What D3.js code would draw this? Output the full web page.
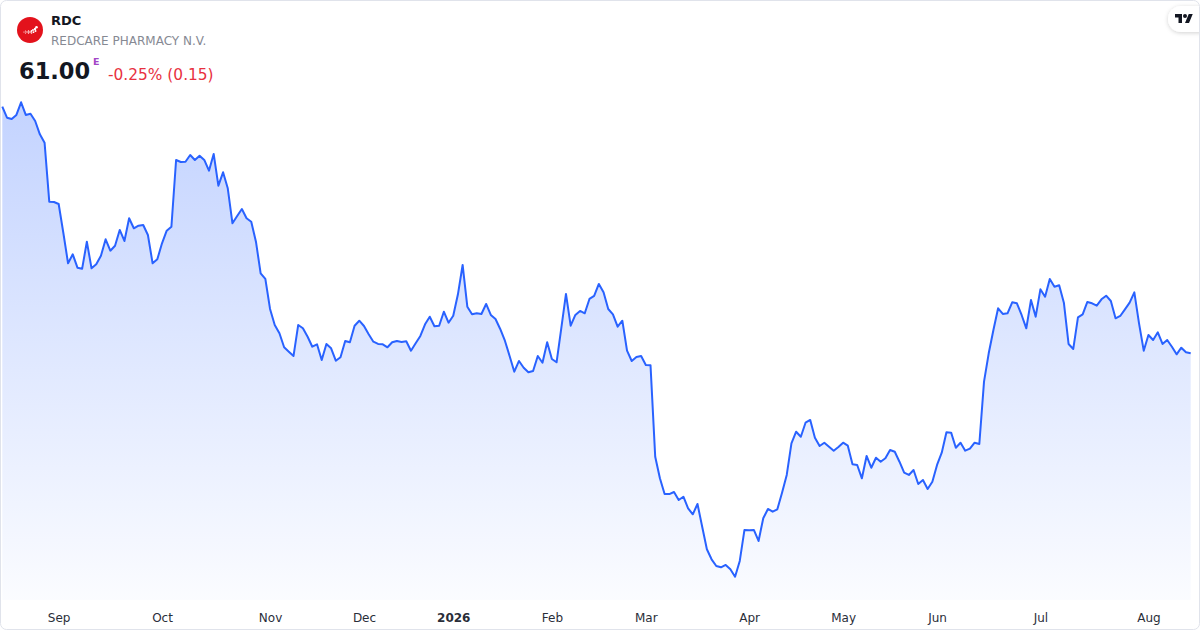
<!DOCTYPE html>
<html>
<head>
<meta charset="utf-8">
<script src="https://cdn.jsdelivr.net/npm/d3@7/dist/d3.min.js"></script>
<style>
  html, body { margin: 0; padding: 0; background: #fff; }
  svg { display: block; font-family: "DejaVu Sans", sans-serif; }
</style>
</head>
<body>
<svg id="chart" width="1200" height="630"></svg>
<script>
// --- data ---
const SYMBOL = "RDC";
const COMPANY = "REDCARE PHARMACY N.V.";
const LAST_PRICE = "61.00";
const CHANGE_TEXT = "-0.25% (0.15)";

const START_DAY = "2025-08-14";
const END_DAY = "2026-08-14";
const HOLIDAYS = ["2025-12-24", "2025-12-25", "2025-12-26", "2025-12-31",
  "2026-01-01", "2026-04-03", "2026-04-06", "2026-05-01"];

// daily closes, one per trading day
const PRICES = [
  97.99, 96.34, 96.15, 96.75, 98.65, 96.75, 96.94, 95.85, 93.85, 92.59,
  83.74, 83.70, 83.40, 79.05, 74.50, 75.85, 73.84, 73.69, 77.74, 73.75,
  74.35, 75.64, 78.10, 76.39, 77.14, 79.50, 77.85, 81.25, 79.75, 80.14,
  80.25, 78.75, 74.50, 75.10, 77.50, 79.39, 79.99, 90.00, 89.70, 89.74,
  90.75, 90.00, 90.64,
  90.00, 88.39, 90.90, 86.14, 88.15, 85.75, 80.50, 81.60, 82.65, 81.25,
  80.74, 77.74, 73.00, 72.15, 67.65, 65.25, 64.00, 61.90, 61.24, 60.60,
  65.25, 64.75, 63.49, 61.99, 62.35, 60.00, 62.40, 61.75, 59.89, 60.40,
  62.85, 62.65, 65.14, 65.89, 65.10, 63.85, 62.74, 62.40, 62.35, 61.90,
  62.65,
  62.85, 62.70, 62.80, 61.39, 62.50, 63.60, 65.35, 66.49, 65.05, 65.14,
  67.24, 65.59, 66.64, 69.85, 74.25, 67.99, 66.85, 67.00, 66.90, 68.40,
  66.75, 66.15, 64.65, 62.89, 60.60, 58.24, 59.85, 58.84, 58.15, 58.35,
  60.60, 59.59, 62.65, 60.15, 59.65, 64.75, 69.90, 65.14, 66.75, 67.35,
  67.00, 69.15, 69.60, 71.40, 70.15, 67.65, 66.85, 64.99, 65.89, 61.39,
  59.85, 60.45,
  60.60, 59.25, 59.20, 45.49, 42.25, 39.90, 39.88, 40.20, 39.00, 39.49,
  37.75, 36.85, 38.40, 34.99, 31.60, 30.10, 29.10, 28.90, 29.25, 28.60,
  27.49, 29.85, 34.50, 34.45, 34.50, 32.85, 36.25, 37.65, 37.24, 37.60,
  40.09, 42.75, 47.50, 49.24,
  48.49, 50.59, 51.00, 48.34, 47.10, 47.59, 46.99, 46.39, 46.95, 47.59,
  47.14, 44.35, 44.25, 42.25, 45.60, 43.84, 45.34, 44.74, 45.25, 46.50,
  46.24, 44.74, 43.09, 42.75, 43.50, 41.40, 42.00, 40.65, 41.74, 44.25,
  46.09, 49.15, 49.10, 46.84, 47.59, 46.39, 46.69, 47.59, 47.40,
  56.74, 61.00, 64.50, 67.75, 66.90, 67.00, 68.65, 68.50, 66.75, 64.75,
  69.00, 66.49, 70.60, 69.49, 72.15, 70.99, 71.20, 68.59, 62.40, 61.65,
  66.40, 66.85, 68.70, 68.50, 68.14, 69.10, 69.64, 68.85, 66.25, 66.60,
  67.60, 68.59, 70.15, 65.50, 61.39, 63.75, 63.00, 64.15, 62.40, 63.00,
  61.99, 60.85, 61.84, 61.15, 61.00
];

// --- trading calendar ---
const parseDay = d3.utcParse("%Y-%m-%d");
const fmtDay = d3.utcFormat("%Y-%m-%d");
const holidaySet = new Set(HOLIDAYS);
const days = d3.utcDay
  .range(parseDay(START_DAY), d3.utcDay.offset(parseDay(END_DAY), 1))
  .filter((d) => d.getUTCDay() !== 0 && d.getUTCDay() !== 6 && !holidaySet.has(fmtDay(d)));

const data = PRICES.map((p, i) => ({ i, date: days[i], price: p }));

// --- params ---
const W = 1200, H = 630;
const lineColor = "#2962ff";
const plotBottom = 600;

const svg = d3.select("#chart");

const defs = svg.append("defs");
defs.append("clipPath").attr("id", "card-clip")
  .append("rect").attr("x", 0.5).attr("y", 0.5)
  .attr("width", W - 1).attr("height", H - 1).attr("rx", 6);

const x = d3.scaleLinear().domain([0, PRICES.length - 1]).range([2.3, 1190.7]);
const y = d3.scaleLinear().domain(d3.extent(PRICES)).range([576.7, 102.3]);

const grad = defs.append("linearGradient")
  .attr("id", "area-grad")
  .attr("gradientUnits", "userSpaceOnUse")
  .attr("x1", 0).attr("x2", 0)
  .attr("y1", y(d3.max(PRICES))).attr("y2", plotBottom);
grad.append("stop").attr("offset", 0).attr("stop-color", lineColor).attr("stop-opacity", 0.28);
grad.append("stop").attr("offset", 1).attr("stop-color", lineColor).attr("stop-opacity", 0.02);

const shadow = defs.append("filter").attr("id", "badge-shadow")
  .attr("x", "-50%").attr("y", "-50%").attr("width", "200%").attr("height", "200%");
shadow.append("feDropShadow").attr("dx", 0).attr("dy", 1).attr("stdDeviation", 2)
  .attr("flood-color", "#000").attr("flood-opacity", 0.18);

// card background
svg.append("rect")
  .attr("x", 0.5).attr("y", 0.5)
  .attr("width", W - 1).attr("height", H - 1)
  .attr("rx", 6)
  .attr("fill", "#fff");

const g = svg.append("g").attr("clip-path", "url(#card-clip)");

// area + line
g.append("path")
  .datum(data)
  .attr("fill", "url(#area-grad)")
  .attr("d", d3.area().x((d) => x(d.i)).y0(plotBottom).y1((d) => y(d.price)));

g.append("path")
  .datum(data)
  .attr("fill", "none")
  .attr("stroke", lineColor)
  .attr("stroke-width", 2)
  .attr("stroke-linejoin", "round")
  .attr("d", d3.line().x((d) => x(d.i)).y((d) => y(d.price)));

// x axis: first trading day of each month
const monthStarts = data.filter((d, i) => i > 0 && d.date.getUTCMonth() !== data[i - 1].date.getUTCMonth());
const tickLabel = (i) => {
  const dt = data[i].date;
  return dt.getUTCMonth() === 0 ? d3.utcFormat("%Y")(dt) : d3.utcFormat("%b")(dt);
};

const axis = g.append("g")
  .attr("transform", `translate(0,${plotBottom + 4})`)
  .call(d3.axisBottom(x)
    .tickValues(monthStarts.map((d) => d.i))
    .tickFormat(tickLabel)
    .tickSize(0)
    .tickPadding(9));
axis.select(".domain").remove();
axis.selectAll("text")
  .attr("font-family", "DejaVu Sans, sans-serif")
  .attr("font-size", 12)
  .attr("fill", "#2a2e39")
  .attr("font-weight", (i) => data[i].date.getUTCMonth() === 0 ? "bold" : null);

// header: logo (red disc with a rising trail of dots)
const logo = svg.append("g").attr("transform", "translate(30,30)");
logo.append("circle").attr("r", 13).attr("fill", "#e3121c");
const dots = [[-6, 2, 0.6], [-4.5, 1, 0.6], [-4.5, 3, 0.6], [-3, 2, 0.7], [-1.5, 1, 0.7],
  [-1.5, 3, 0.7], [0, 2, 0.8], [1.5, 1, 0.9], [1.5, 3, 0.8], [3, 0, 1],
  [3.5, 2.2, 0.9], [5, -1, 1.2], [6.5, -2.8, 1.3], [5.5, 1, 1]];
logo.selectAll("circle.dot").data(dots).join("circle")
  .attr("class", "dot")
  .attr("cx", (d) => d[0]).attr("cy", (d) => d[1])
  .attr("r", (d) => d[2]).attr("fill", "#fff");

svg.append("text").attr("x", 51).attr("y", 25)
  .attr("font-size", 13).attr("font-weight", "bold").attr("fill", "#131722")
  .text(SYMBOL);
svg.append("text").attr("x", 51).attr("y", 45)
  .attr("font-size", 12).attr("fill", "#868993")
  .text(COMPANY);
svg.append("text").attr("x", 19).attr("y", 79)
  .attr("font-size", 22.5).attr("font-weight", "bold").attr("fill", "#131722")
  .text(LAST_PRICE);
svg.append("text").attr("x", 93).attr("y", 65)
  .attr("font-size", 9.5).attr("font-weight", "bold").attr("fill", "#a346c7")
  .text("E");
svg.append("text").attr("x", 108).attr("y", 80)
  .attr("font-size", 15.4).attr("fill", "#e8313f")
  .text(CHANGE_TEXT);

// TradingView badge
const badge = g.append("g");
badge.append("rect")
  .attr("x", 1168).attr("y", 6).attr("width", 44).attr("height", 26).attr("rx", 13)
  .attr("fill", "#fff").attr("filter", "url(#badge-shadow)");
badge.append("g").attr("transform", "translate(1175,12) scale(0.5)")
  .call((s) => {
    s.append("path").attr("d", "M14 22H7V11H0V4h14v18zM28 22h-8l7.5-18h8L28 22z").attr("fill", "#131722");
    s.append("circle").attr("cx", 20).attr("cy", 8).attr("r", 4).attr("fill", "#131722");
  });

// card border
svg.append("rect")
  .attr("x", 0.5).attr("y", 0.5)
  .attr("width", W - 1).attr("height", H - 1)
  .attr("rx", 6)
  .attr("fill", "none")
  .attr("stroke", "#e0e3eb");
</script>
</body>
</html>
